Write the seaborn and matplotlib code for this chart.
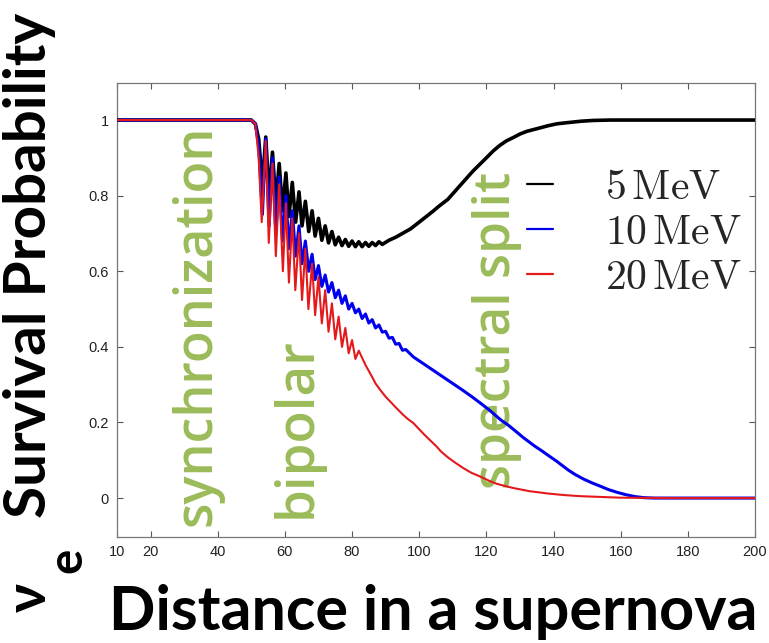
import matplotlib
matplotlib.use("Agg")
import matplotlib.pyplot as plt
import numpy as np
import pandas as pd
import seaborn as sns

# distance values (peaks/troughs of the oscillations listed explicitly)
lead_x = [10, 50, 51.2, 52.2]

black_lead_y = [1.0, 1.0, 0.99, 0.95]
black_peak_x = [54.3, 56.3, 58.3, 60.3, 62.2, 64.2, 66.1, 68.1, 70.0, 72.0, 74.0, 76.0, 78.0, 80.0, 82.0, 84.0, 86.0, 88.0]
black_peak_y = [0.955, 0.915, 0.885, 0.86, 0.835, 0.81, 0.785, 0.76, 0.74, 0.72, 0.705, 0.69, 0.684, 0.68, 0.678, 0.676, 0.676, 0.678]
black_trough_x = [53.3, 55.3, 57.3, 59.3, 61.2, 63.2, 65.1, 67.1, 69.0, 71.0, 73.0, 75.0, 77.0, 79.0, 81.0, 83.0, 85.0, 87.0, 89.0]
black_trough_y = [0.83, 0.80, 0.78, 0.76, 0.745, 0.73, 0.72, 0.705, 0.693, 0.682, 0.675, 0.67, 0.668, 0.666, 0.665, 0.665, 0.666, 0.668, 0.671]
black_tail_x = [91, 93, 95, 97.4, 100, 102, 104, 106, 108.5, 110, 112, 114, 116, 118.4, 120, 122, 124, 126,
                128.3, 130, 132, 135, 138.4, 141, 144, 148.3, 152, 157, 200]
black_tail_y = [0.682, 0.69, 0.70, 0.712, 0.73, 0.744, 0.758, 0.773, 0.79, 0.805, 0.825, 0.845, 0.865, 0.886, 0.90,
                0.918, 0.933, 0.945, 0.955, 0.963, 0.97, 0.977, 0.985, 0.99, 0.993, 0.997, 0.999, 1.0, 1.0]

blue_lead_y = [1.0, 1.0, 0.99, 0.93]
blue_peak_x = [54.3, 56.3, 58.3, 60.3, 62.2, 64.2, 66.1, 68.1, 70.0, 72.0, 74.0, 76.0, 78.0, 80.0, 82.0, 84.0, 86.0, 88.0, 90.0, 92.0, 94.0, 96.0]
blue_peak_y = [0.95, 0.90, 0.85, 0.80, 0.76, 0.72, 0.68, 0.645, 0.615, 0.59, 0.57, 0.55, 0.535, 0.515, 0.50, 0.487, 0.472, 0.458, 0.441, 0.425, 0.409, 0.393]
blue_trough_x = [53.3, 55.3, 57.3, 59.3, 61.2, 63.2, 65.1, 67.1, 69.0, 71.0, 73.0, 75.0, 77.0, 79.0, 81.0, 83.0, 85.0, 87.0, 89.0, 91.0, 93.0, 95.0]
blue_trough_y = [0.75, 0.72, 0.70, 0.68, 0.66, 0.64, 0.62, 0.60, 0.578, 0.56, 0.545, 0.53, 0.515, 0.50, 0.49, 0.475, 0.463, 0.45, 0.439, 0.423, 0.407, 0.391]
blue_tail_x = [98.3, 100.5, 103, 105.5, 108.5, 111, 113, 116, 118.4, 121, 124.4, 126.5, 128.3, 131, 134.3, 136.5,
               138.4, 141, 144.4, 146.5, 149, 151.5, 154.3, 156.5, 159, 161.5, 164.2, 167, 170, 200]
blue_tail_y = [0.373, 0.36, 0.345, 0.33, 0.312, 0.297, 0.285, 0.266, 0.25, 0.232, 0.206, 0.193, 0.18, 0.16, 0.138, 0.125,
               0.113, 0.097, 0.074, 0.062, 0.05, 0.04, 0.03, 0.022, 0.015, 0.009, 0.004, 0.001, 0.0, 0.0]

red_lead_y = [1.0, 1.0, 0.99, 0.90]
red_peak_x = [54.3, 56.3, 58.3, 60.3, 62.2, 64.2, 66.1, 68.1, 70.0, 72.0, 74.0, 76.0, 78.0, 80.0, 82.0]
red_peak_y = [0.945, 0.885, 0.83, 0.78, 0.74, 0.70, 0.66, 0.62, 0.585, 0.55, 0.515, 0.48, 0.45, 0.418, 0.39]
red_trough_x = [53.1, 55.2, 57.3, 59.4, 61.2, 63.1, 65.1, 67.0, 69.0, 71.0, 73.0, 75.0, 77.0, 79.0, 81.0]
red_trough_y = [0.73, 0.675, 0.64, 0.60, 0.57, 0.55, 0.524, 0.50, 0.484, 0.462, 0.44, 0.42, 0.40, 0.383, 0.368]
red_tail_x = [84, 85, 86, 87, 88.4, 90, 91.5, 93, 95, 96.5, 98.3, 100, 101.5, 103, 105, 106.5, 108.5, 110.5, 113,
              115.5, 118.4, 121, 123, 125.5, 128.3, 133, 138.4, 143, 148, 154, 160, 175, 200]
red_tail_y = [0.352, 0.336, 0.32, 0.303, 0.286, 0.268, 0.254, 0.24, 0.222, 0.21, 0.198, 0.182, 0.168, 0.155, 0.138,
              0.123, 0.108, 0.095, 0.08, 0.067, 0.056, 0.045, 0.038, 0.032, 0.026, 0.018, 0.012, 0.008, 0.005, 0.003,
              0.001, 0.0, 0.0]

energy_labels = [r"$5\,\mathrm{MeV}$", r"$10\,\mathrm{MeV}$", r"$20\,\mathrm{MeV}$"]
x_ticks = [10, 20, 40, 60, 80, 100, 120, 140, 160, 180, 200]
y_ticks = [0, 0.2, 0.4, 0.6, 0.8, 1]
y_tick_labels = ["0", "0.2", "0.4", "0.6", "0.8", "1"]

GREEN = "#9BBB59"


def build_curve(label, lead_y, peak_x, peak_y, trough_x, trough_y, tail_x, tail_y):
    x = lead_x + peak_x + trough_x + tail_x
    y = lead_y + peak_y + trough_y + tail_y
    df = pd.DataFrame({"distance": x, "prob": y})
    df["energy"] = label
    return df.sort_values("distance")


curves = pd.concat(
    [
        build_curve(energy_labels[0], black_lead_y, black_peak_x, black_peak_y,
                    black_trough_x, black_trough_y, black_tail_x, black_tail_y),
        build_curve(energy_labels[1], blue_lead_y, blue_peak_x, blue_peak_y,
                    blue_trough_x, blue_trough_y, blue_tail_x, blue_tail_y),
        build_curve(energy_labels[2], red_lead_y, red_peak_x, red_peak_y,
                    red_trough_x, red_trough_y, red_tail_x, red_tail_y),
    ],
    ignore_index=True,
)

sns.set_theme(style="ticks")
plt.rcParams["font.family"] = ["Liberation Sans", "DejaVu Sans"]
plt.rcParams["mathtext.fontset"] = "cm"

W, H = 769, 643
fig = plt.figure(figsize=(W / 100, H / 100), dpi=100)
ax = fig.add_axes([117 / W, 1 - 537 / H, (755 - 117) / W, (537 - 83) / H])

styles = {
    energy_labels[0]: ("black", 2.6),
    energy_labels[1]: ("#0000ee", 2.2),
    energy_labels[2]: ("#e3191c", 1.5),
}
for label, (color, lw) in styles.items():
    sub = curves[curves["energy"] == label]
    sns.lineplot(data=sub, x="distance", y="prob", color=color, lw=lw,
                 estimator=None, sort=True, ax=ax, label=label, zorder=3)

ax.set_xlim(10, 200)
ax.set_ylim(-0.103, 1.098)
ax.set_xticks(x_ticks)
ax.set_yticks(y_ticks)
ax.set_yticklabels(y_tick_labels)
ax.set_xlabel("")
ax.set_ylabel("")
ax.tick_params(direction="in", top=True, right=True, length=4, width=0.8,
               labelsize=10.5, colors="#555555", labelcolor="#222222", pad=6)
for sp in ax.spines.values():
    sp.set_color("#777777")
    sp.set_linewidth(0.9)

leg = ax.legend(loc="upper left", bbox_to_anchor=(527 / W, 1 - 168 / H),
                bbox_transform=fig.transFigure, frameon=False, fontsize=30,
                handlelength=0.62, handletextpad=1.25, labelspacing=0.12,
                borderpad=0, borderaxespad=0)
for line in leg.get_lines():
    line.set_linewidth(1.6)

# green annotation words, drawn below the curves
ax.text(197 / W, 1 - 325 / H, "synchronization", transform=fig.transFigure,
        rotation=90, ha="center", va="center", color=GREEN, fontsize=37.5,
        family="Open Sans", fontweight="semibold", zorder=1)
ax.text(297 / W, 1 - 428 / H, "bipolar", transform=fig.transFigure,
        rotation=90, ha="center", va="center", color=GREEN, fontsize=38,
        family="Open Sans", fontweight="semibold", zorder=1)
ax.text(497 / W, 1 - 330 / H, "spectral split", transform=fig.transFigure,
        rotation=90, ha="center", va="center", color=GREEN, fontsize=37,
        family="Open Sans", fontweight="semibold", zorder=1)

# big axis titles
fig.text(433 / W, 1 - 612 / H, "Distance in a supernova", ha="center", va="center",
         fontsize=44, fontweight="bold", family="Lato", color="black")
fig.text(30 / W, 1 - 265 / H, "Survival Probability", rotation=90, ha="center",
         va="center", fontsize=42, fontweight="bold", family="Lato", color="black")
fig.text(30 / W, 1 - 598 / H, "ν", rotation=90, ha="center", va="center",
         fontsize=40, fontweight="bold", family=["Lato", "DejaVu Sans"], color="black")
fig.text(67 / W, 1 - 560 / H, "e", rotation=90, ha="center", va="center",
         fontsize=34, fontweight="bold", family="Lato", color="black")

fig.savefig("out.png", dpi=100)
